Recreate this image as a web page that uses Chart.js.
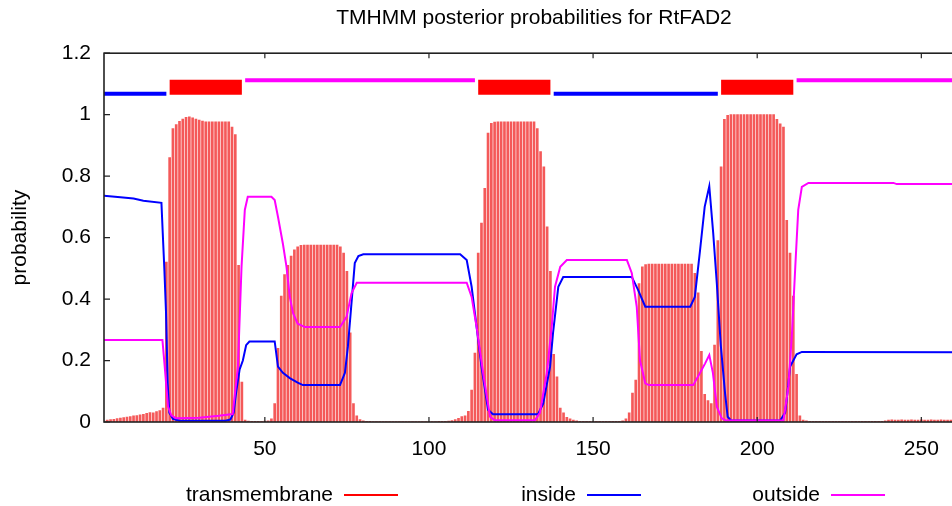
<!DOCTYPE html>
<html>
<head>
<meta charset="utf-8">
<title>TMHMM posterior probabilities for RtFAD2</title>
<script src="https://cdn.jsdelivr.net/npm/chart.js@4.4.0/dist/chart.umd.min.js"></script>
<style>
  html, body { margin: 0; padding: 0; background: #fff; overflow: hidden; }
  #wrap { width: 970px; height: 506px; }
</style>
</head>
<body>
<div id="wrap"><canvas id="myChart" width="970" height="506"></canvas></div>
<script>
// residue numbers start at 1
const residueStart = 1;
const residueEnd = 263;

// posterior probability of transmembrane, one value per residue
const tmProb = [
  0.004, 0.006, 0.008, 0.009, 0.011, 0.013, 0.014, 0.016, 0.018, 0.02,
  0.021, 0.023, 0.025, 0.028, 0.031, 0.03, 0.034, 0.037, 0.045, 0.52,
  0.86, 0.955, 0.968, 0.978, 0.986, 0.991, 0.993, 0.99, 0.986, 0.982,
  0.979, 0.977, 0.977, 0.977, 0.977, 0.977, 0.977, 0.977, 0.977, 0.96,
  0.935, 0.51, 0.13, 0.006, 0.003, 0.002, 0.002, 0.002, 0.002, 0.003,
  0.004, 0.01, 0.06, 0.24, 0.41, 0.48, 0.51, 0.54, 0.56, 0.57,
  0.575, 0.576, 0.576, 0.576, 0.576, 0.576, 0.576, 0.576, 0.576, 0.576,
  0.576, 0.576, 0.57, 0.55, 0.49, 0.29, 0.06, 0.02, 0.008, 0.004,
  0.002, 0.002, 0.001, 0.001, 0.001, 0.001, 0.001, 0.001, 0.001, 0.001,
  0.001, 0.001, 0.001, 0.001, 0.001, 0.001, 0.001, 0.001, 0.001, 0.001,
  0.001, 0.001, 0.002, 0.002, 0.002, 0.003, 0.005, 0.008, 0.012, 0.018,
  0.02, 0.035, 0.104, 0.224, 0.55, 0.647, 0.76, 0.94, 0.972, 0.976,
  0.977, 0.977, 0.977, 0.977, 0.977, 0.977, 0.977, 0.977, 0.977, 0.977,
  0.977, 0.977, 0.955, 0.88, 0.83, 0.635, 0.49, 0.22, 0.147, 0.045,
  0.03, 0.015, 0.01, 0.006, 0.004, 0.002, 0.002, 0.002, 0.002, 0.002,
  0.002, 0.002, 0.002, 0.002, 0.002, 0.002, 0.002, 0.002, 0.004, 0.01,
  0.03, 0.094, 0.136, 0.45, 0.505, 0.512, 0.514, 0.514, 0.514, 0.514,
  0.514, 0.514, 0.514, 0.514, 0.514, 0.514, 0.514, 0.514, 0.514, 0.514,
  0.484, 0.42, 0.23, 0.09, 0.07, 0.06, 0.25, 0.59, 0.83, 0.985,
  0.998, 1.0, 1.0, 1.0, 1.0, 1.0, 1.0, 1.0, 1.0, 1.0,
  1.0, 1.0, 1.0, 1.0, 1.0, 0.985, 0.97, 0.96, 0.656, 0.55,
  0.41, 0.155, 0.02, 0.006, 0.004, 0.002, 0.002, 0.002, 0.002, 0.002,
  0.002, 0.002, 0.002, 0.002, 0.002, 0.002, 0.002, 0.002, 0.002, 0.002,
  0.002, 0.002, 0.002, 0.002, 0.002, 0.002, 0.002, 0.002, 0.004, 0.006,
  0.007, 0.006, 0.006, 0.007, 0.006, 0.006, 0.007, 0.006, 0.006, 0.007,
  0.006, 0.006, 0.007, 0.006, 0.006, 0.007, 0.006, 0.006, 0.006, 0.006,
  0.006, 0.006, 0.006
];

const insideX = [1, 6, 10, 13, 18.5, 18.9, 19.4, 19.9, 20.4, 20.9, 22, 24, 38, 39.5, 40.5, 41.3, 42.3, 43.3, 44.3, 45.3,
  53, 54, 55.5, 57.6, 60, 61.6, 72.9, 74.4, 75.3, 76.5, 77.4, 78.5, 80, 109.5, 111.5, 113, 114.5, 116, 118, 119.5,
  133.2, 134.8, 136.9, 137.8, 139.4, 140.9, 161.8, 163.7, 165.9, 179.6, 181, 182.6, 184, 185.4, 186.6, 187.7, 188.9, 190.2, 191, 192,
  207, 208.5, 209.2, 210, 212, 213.6, 263];
const insideY = [0.736, 0.731, 0.727, 0.72, 0.713, 0.614, 0.494, 0.354, 0.126, 0.03, 0.01, 0.004, 0.004, 0.008, 0.03, 0.1, 0.17, 0.2, 0.25, 0.262,
  0.262, 0.18, 0.16, 0.143, 0.128, 0.12, 0.12, 0.16, 0.245, 0.4, 0.517, 0.54, 0.546, 0.546, 0.527, 0.44, 0.31, 0.18, 0.04, 0.025,
  0.025, 0.06, 0.18, 0.29, 0.44, 0.472, 0.472, 0.43, 0.375, 0.375, 0.407, 0.56, 0.7, 0.767, 0.614, 0.45, 0.25, 0.094, 0.017, 0.005,
  0.005, 0.03, 0.094, 0.18, 0.22, 0.228, 0.227];

const outsideX = [1, 18.8, 19.5, 20.5, 21.5, 23, 30, 36, 40.2, 41.8, 42.9, 43.9, 44.8, 52, 53, 54, 55.5, 56.6, 57.6, 58.6,
  60, 62.2, 72.9, 74.9, 76.4, 78, 111.5, 113, 114.5, 116.5, 118.6, 120, 132.3, 133.8, 135.9, 137.4, 138.4, 140, 142, 160.3,
  161.8, 163.3, 164.3, 165.9, 167, 180.5, 182.6, 184.1, 185.4, 186.5, 187.7, 189.2, 190.5, 208, 209.5, 210.6, 211.6, 212.5, 213.6, 215.6,
  241.5, 242.5, 263];
const outsideY = [0.267, 0.267, 0.18, 0.05, 0.022, 0.012, 0.014, 0.02, 0.026, 0.18, 0.505, 0.69, 0.733, 0.733, 0.722, 0.668, 0.58, 0.505, 0.407, 0.354,
  0.32, 0.309, 0.309, 0.342, 0.419, 0.453, 0.453, 0.407, 0.31, 0.16, 0.017, 0.006, 0.006, 0.03, 0.16, 0.31, 0.44, 0.505, 0.527, 0.527,
  0.484, 0.375, 0.2, 0.126, 0.12, 0.12, 0.16, 0.19, 0.218, 0.16, 0.05, 0.012, 0.005, 0.005, 0.115, 0.29, 0.505, 0.69, 0.765, 0.778,
  0.778, 0.774, 0.774];

// predicted topology
const topoStart = [1, 21, 44, 115, 138, 189, 212];
const topoEnd = [20, 43, 114, 137, 188, 211, 263];
const topoKind = ['inside', 'TM', 'outside', 'TM', 'inside', 'TM', 'outside'];
const topoLevel = { inside: 1.068, TM: 1.089, outside: 1.112 };

// axis ticks
const xTicks = [50, 100, 150, 200, 250];
const yTicks = [0, 0.2, 0.4, 0.6, 0.8, 1, 1.2];

const seriesNames = ['transmembrane', 'inside', 'outside'];
const seriesColors = ['#ff0000', '#0000ff', '#ff00ff'];

const FONT = '"Liberation Sans", Arial, Helvetica, sans-serif';


function topoPoints(kind) {
    const pts = [];
    for (let i = 0; i < topoKind.length; i++) {
        if (topoKind[i] !== kind) continue;
        pts.push({ x: topoStart[i], y: topoLevel[kind] });
        pts.push({ x: topoEnd[i], y: topoLevel[kind] });
        pts.push({ x: topoEnd[i], y: null });
    }
    return pts;
}


// box round the plot, inward ticks, and the gnuplot style key
const frameAndKey = {
    id: 'frameAndKey',
    afterDraw(chart) {
        const ctx = chart.ctx;
        const a = chart.chartArea;
        const xs = chart.scales.x;
        const ys = chart.scales.y;
        ctx.save();
        ctx.strokeStyle = '#222';
        ctx.lineWidth = 1.6;
        ctx.strokeRect(a.left, a.top, a.right - a.left, a.bottom - a.top);

        ctx.lineWidth = 1.2;
        ctx.beginPath();
        xTicks.forEach(v => {
            const px = xs.getPixelForValue(v);
            ctx.moveTo(px, a.bottom); ctx.lineTo(px, a.bottom - 5);
            ctx.moveTo(px, a.top); ctx.lineTo(px, a.top + 5);
        });
        yTicks.forEach(v => {
            const py = ys.getPixelForValue(v);
            ctx.moveTo(a.left, py); ctx.lineTo(a.left + 6, py);
            ctx.moveTo(a.right, py); ctx.lineTo(a.right - 6, py);
        });
        ctx.stroke();

        // key under the plot: text first, then a line sample
        const keyY = 495;
        const lineEnds = [398, 641, 885];
        ctx.font = '21px ' + FONT;
        ctx.fillStyle = '#000';
        ctx.textAlign = 'right';
        ctx.textBaseline = 'middle';
        seriesNames.forEach((name, i) => {
            const end = lineEnds[i];
            ctx.fillText(name, end - 65, keyY);
            ctx.strokeStyle = seriesColors[i];
            ctx.lineWidth = 2;
            ctx.beginPath();
            ctx.moveTo(end - 54, keyY);
            ctx.lineTo(end, keyY);
            ctx.stroke();
        });
        ctx.restore();
    }
};


document.addEventListener("DOMContentLoaded", function () {
    Chart.defaults.font.family = FONT;
    Chart.defaults.font.size = 21;
    Chart.defaults.color = '#000';

    const ctx = document.getElementById("myChart").getContext("2d");

    new Chart(ctx, {
        type: 'line',
        data: {
            datasets: [
                {
                    type: 'line',
                    label: 'topology inside',
                    data: topoPoints('inside'),
                    borderColor: '#0000ff',
                    borderWidth: 4,
                    borderCapStyle: 'butt',
                    pointRadius: 0,
                    spanGaps: false,
                    order: 0
                },
                {
                    type: 'line',
                    label: 'topology outside',
                    data: topoPoints('outside'),
                    borderColor: '#ff00ff',
                    borderWidth: 4,
                    borderCapStyle: 'butt',
                    pointRadius: 0,
                    spanGaps: false,
                    order: 0
                },
                {
                    type: 'line',
                    label: 'topology TM',
                    data: topoPoints('TM'),
                    borderColor: '#ff0000',
                    borderWidth: 15,
                    borderCapStyle: 'butt',
                    pointRadius: 0,
                    spanGaps: false,
                    order: 0
                },
                {
                    type: 'line',
                    label: seriesNames[2],
                    data: outsideX.map((x, i) => ({ x: x, y: outsideY[i] })),
                    borderColor: seriesColors[2],
                    borderWidth: 2,
                    pointRadius: 0,
                    tension: 0,
                    order: 1
                },
                {
                    type: 'line',
                    label: seriesNames[1],
                    data: insideX.map((x, i) => ({ x: x, y: insideY[i] })),
                    borderColor: seriesColors[1],
                    borderWidth: 2,
                    pointRadius: 0,
                    tension: 0,
                    order: 2
                },
                {
                    type: 'bar',
                    label: seriesNames[0],
                    data: tmProb.map((v, i) => ({ x: residueStart + i, y: v })),
                    backgroundColor: 'rgba(242, 60, 60, 0.85)',
                    borderWidth: 0,
                    barThickness: 2,
                    grouped: false,
                    order: 3
                }
            ]
        },
        options: {
            responsive: false,
            animation: false,
            layout: { padding: { left: 0, right: 6, top: 0, bottom: 44 } },
            plugins: {
                legend: { display: false },
                tooltip: { enabled: false },
                title: {
                    display: true,
                    text: 'TMHMM posterior probabilities for RtFAD2',
                    fullSize: false,
                    font: { size: 21, weight: 'normal' },
                    color: '#000',
                    padding: { top: 6, bottom: 22 }
                }
            },
            scales: {
                x: {
                    type: 'linear',
                    min: residueStart,
                    max: residueEnd,
                    offset: false,
                    grid: { display: false, drawTicks: false },
                    border: { display: false },
                    ticks: { padding: 15, maxRotation: 0, autoSkip: false, callback: v => String(v) },
                    afterBuildTicks: s => { s.ticks = xTicks.map(v => ({ value: v })); },
                    afterFit: s => { s.height = 40; }
                },
                y: {
                    min: 0,
                    max: 1.2,
                    grid: { display: false, drawTicks: false },
                    border: { display: false },
                    ticks: { padding: 13, callback: v => String(v) },
                    afterBuildTicks: s => { s.ticks = yTicks.map(v => ({ value: v })); },
                    afterFit: s => { s.width = 104; },
                    title: {
                        display: true,
                        text: 'probability',
                        font: { size: 21 },
                        padding: { top: 8, bottom: 0 }
                    }
                }
            }
        },
        plugins: [frameAndKey]
    });
});
</script>
</body>
</html>
